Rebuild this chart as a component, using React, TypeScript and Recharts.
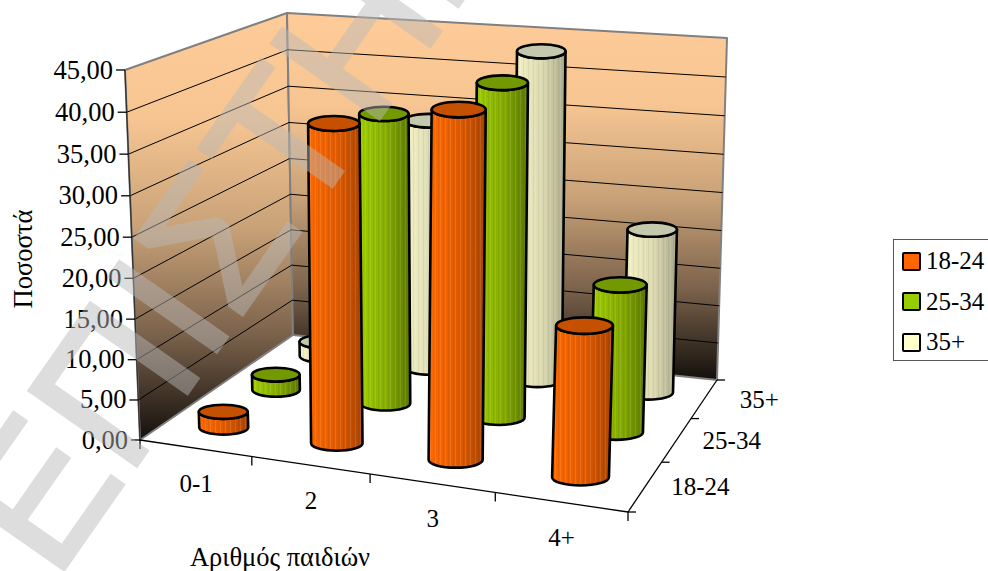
import { Bar, BarChart, Customized, Legend, XAxis, YAxis } from 'recharts'

const childCounts = ['0-1', '2', '3', '4+']
const ageGroups = ['18-24', '25-34', '35+']
const pct1824 = [2, 39, 42, 18.2]
const pct2534 = [2, 37, 42, 18.5]
const pct35 = [2, 33.2, 43.2, 21.4]
const yTicks = [0, 5, 10, 15, 20, 25, 30, 35, 40, 45]

const WIDTH = 988
const HEIGHT = 571
const AXIS_W = 60
const AXIS_H = 30
const PLOT_W = WIDTH - AXIS_W
const PLOT_H = HEIGHT - AXIS_H

const FONT = '"Liberation Serif", "Times New Roman", serif'

type Pt = [number, number]

// corners of the box: front-left, front-right, back-right, back-left
const floorQuad: Pt[] = [[140, 440], [628, 512], [717, 380], [293, 335]]
const topQuad: Pt[] = [[125, 70], [642, 119], [727, 38], [287, 13]]

function quadMap(q: Pt[]) {
  const [[x0, y0], [x1, y1], [x2, y2], [x3, y3]] = q
  const dx1 = x1 - x2
  const dx2 = x3 - x2
  const sx = x0 - x1 + x2 - x3
  const dy1 = y1 - y2
  const dy2 = y3 - y2
  const sy = y0 - y1 + y2 - y3
  const den = dx1 * dy2 - dx2 * dy1
  const g = (sx * dy2 - dx2 * sy) / den
  const h = (dx1 * sy - sx * dy1) / den
  const a = x1 - x0 + g * x1
  const b = x3 - x0 + h * x3
  const d = y1 - y0 + g * y1
  const e = y3 - y0 + h * y3
  return (u: number, v: number): Pt => {
    const w = g * u + h * v + 1
    return [(a * u + b * v + x0) / w, (d * u + e * v + y0) / w]
  }
}

const floorMap = quadMap(floorQuad)

// rise of the box at a floor point, blended from the four corner uprights
function rise(u: number, depth: number): Pt {
  const up = floorQuad.map((p, i): Pt => [topQuad[i][0] - p[0], topQuad[i][1] - p[1]])
  const mix = (k: 0 | 1) => {
    const front = up[0][k] + (up[1][k] - up[0][k]) * u
    const back = up[3][k] + (up[2][k] - up[3][k]) * u
    return front + (back - front) * depth
  }
  return [mix(0), mix(1)]
}

// u: along the categories, depth: front to back, level: 0 floor .. 1 top of the walls
function project(u: number, depth: number, level: number): Pt {
  // ease off the foreshortening, more of it towards the back wall
  const eased = u + (0.04 + 0.06 * depth) * u * (1 - u)
  const lift = level - 0.03 * level * (1 - level)
  const a = floorMap(eased, depth)
  const r = rise(u, depth)
  return [a[0] + r[0] * lift, a[1] + r[1] * lift]
}

const uOf = (x: number) => (x - AXIS_W) / PLOT_W
const levelOf = (y: number) => (PLOT_H - y) / PLOT_H
const depthOf = (i: number) => (i + 0.5) / ageGroups.length

const quadPath = (pts: Pt[]) => 'M' + pts.map((p) => p.join(' ')).join('L') + 'Z'

type Skin = { id: string; light: string; mid: string; dark: string; cap: string; swatch: string }

const skins: Skin[] = [
  { id: 'young', light: '#ff6a00', mid: '#e05a00', dark: '#a84400', cap: '#c45000', swatch: '#ff6600' },
  { id: 'middle', light: '#a0d000', mid: '#84aa00', dark: '#5c7800', cap: '#739900', swatch: '#99cc00' },
  { id: 'older', light: '#f6f3c8', mid: '#dcdab0', dark: '#a9a98c', cap: '#c4c8ac', swatch: '#ffffcc' },
]

function Cylinder(props: any) {
  const { x, y, width, height, series } = props
  const depth = depthOf(series)
  const skin = skins[series]
  const mid = uOf(x + width / 2)
  const level = levelOf(y)
  const base = project(mid, depth, 0)
  const top = project(mid, depth, level)
  const a = project(uOf(x), depth, 0)
  const b = project(uOf(x + width), depth, 0)
  const rx = Math.hypot(a[0] - b[0], a[1] - b[1]) / 2
  const ry = rx * 0.29
  if (height <= 0) return null
  const body =
    `M${top[0] - rx} ${top[1]}L${base[0] - rx} ${base[1]}` +
    `A${rx} ${ry} 0 0 0 ${base[0] + rx} ${base[1]}` +
    `L${top[0] + rx} ${top[1]}` +
    `A${rx} ${ry} 0 0 1 ${top[0] - rx} ${top[1]}Z`
  return (
    <g>
      <path d={body} fill={`url(#${skin.id})`} />
      <path d={body} fill="url(#pleats)" />
      <path d={body} fill="none" stroke="#000" strokeWidth={2.6} strokeLinejoin="round" />
      <ellipse cx={top[0]} cy={top[1]} rx={rx} ry={ry} fill={skin.cap} stroke="#000" strokeWidth={2.6} />
    </g>
  )
}

function Walls() {
  const left = [project(0, 0, 0), project(0, 1, 0), project(0, 1, 1), project(0, 0, 1)]
  const back = [project(0, 1, 0), project(1, 1, 0), project(1, 1, 1), project(0, 1, 1)]
  return (
    <g>
      <defs>
        <linearGradient id="wall" x1="0" x2="0" y1="0" y2="1">
          <stop offset="0%" stopColor="#ffcc99" />
          <stop offset="25%" stopColor="#f6c592" />
          <stop offset="50%" stopColor="#c9a278" />
          <stop offset="75%" stopColor="#7c634c" />
          <stop offset="100%" stopColor="#14100c" />
        </linearGradient>
        {skins.map((s) => (
          <linearGradient key={s.id} id={s.id} x1="0" x2="1" y1="0" y2="0">
            <stop offset="0%" stopColor={s.light} />
            <stop offset="55%" stopColor={s.mid} />
            <stop offset="100%" stopColor={s.dark} />
          </linearGradient>
        ))}
        <pattern id="pleats" width={5} height={8} patternUnits="userSpaceOnUse">
          <rect width={1} height={8} fill="#fff" opacity={0.11} />
          <rect x={3} width={1} height={8} fill="#000" opacity={0.05} />
        </pattern>
      </defs>
      <path d={quadPath(left)} fill="url(#wall)" stroke="#808080" strokeWidth={2} strokeLinejoin="round" />
      <path d={quadPath(back)} fill="url(#wall)" stroke="#808080" strokeWidth={2} strokeLinejoin="round" />
      {yTicks.slice(1, -1).map((t) => {
        const lv = t / 45
        const p0 = project(0, 0, lv)
        const p1 = project(0, 1, lv)
        const p2 = project(1, 1, lv)
        return (
          <polyline key={t} points={`${p0.join(',')} ${p1.join(',')} ${p2.join(',')}`} fill="none" stroke="#000" strokeWidth={1} />
        )
      })}
      <FloorAxes />
    </g>
  )
}

function FloorAxes() {
  const fl = project(0, 0, 0)
  const fr = project(1, 0, 0)
  const br = project(1, 1, 0)
  const tl = project(0, 0, 1)
  return (
    <g stroke="#000" strokeWidth={1.3} fill="none">
      <line x1={tl[0]} y1={tl[1]} x2={fl[0]} y2={fl[1]} stroke="#333" />
      <line x1={fl[0]} y1={fl[1]} x2={fr[0]} y2={fr[1]} />
      <line x1={fr[0]} y1={fr[1]} x2={br[0]} y2={br[1]} />
      {childCounts.map((_, i) => {
        const p = project((i + 1) / childCounts.length, 0, 0)
        return <line key={i} x1={p[0]} y1={p[1]} x2={p[0]} y2={p[1] + 9} />
      })}
      <line x1={fl[0]} y1={fl[1]} x2={fl[0]} y2={fl[1] + 9} />
      {[0, 1, 2, 3].map((i) => {
        const p = project(1, i / ageGroups.length, 0)
        return <line key={i} x1={p[0]} y1={p[1]} x2={p[0] + 8} y2={p[1]} />
      })}
      {ageGroups.map((g, i) => {
        const p = project(1, depthOf(i), 0)
        return (
          <text key={g} x={p[0] + 55} y={p[1] + 9} stroke="none" fill="#000" fontFamily={FONT} fontSize={25} textAnchor="middle">
            {g}
          </text>
        )
      })}
    </g>
  )
}

function ValueTick({ y, payload }: any) {
  const p = project(0, 0, levelOf(y))
  return (
    <g>
      <line x1={p[0] - 9} y1={p[1]} x2={p[0]} y2={p[1]} stroke="#000" strokeWidth={1.3} />
      <text x={p[0] - 12} y={p[1] + 8.5} textAnchor="end" fontFamily={FONT} fontSize={26.5} fill="#000">
        {payload.value.toFixed(2).replace('.', ',')}
      </text>
    </g>
  )
}

function CategoryTick({ x, payload }: any) {
  const p = project(uOf(x), 0, 0)
  return (
    <text x={p[0] + 1} y={p[1] + 44} textAnchor="middle" fontFamily={FONT} fontSize={25} fill="#000">
      {payload.value}
    </text>
  )
}

function AgeLegend() {
  return (
    <div
      style={{
        boxSizing: 'border-box',
        width: 120,
        height: 122,
        border: '1.5px solid #555',
        background: '#fff',
        paddingLeft: 8,
        fontFamily: FONT,
        fontSize: 25,
        color: '#000',
      }}
    >
      {ageGroups.map((g, i) => (
        <div key={g} style={{ display: 'flex', alignItems: 'center', height: 40.5, marginTop: i === 0 ? 1 : 0 }}>
          <span
            style={{
              boxSizing: 'border-box',
              width: 19,
              height: 19,
              border: '2.5px solid #000',
              borderRadius: 2,
              background: skins[i].swatch,
              marginRight: 5,
            }}
          />
          {g}
        </div>
      ))}
    </div>
  )
}

const rows = childCounts.map((name, i) => ({ name, a: pct1824[i], b: pct2534[i], c: pct35[i] }))

export default function App() {
  return (
    <div style={{ position: 'absolute', left: 0, top: 0, width: WIDTH, height: HEIGHT, overflow: 'hidden', background: '#fff' }}>
      <BarChart
        width={WIDTH}
        height={HEIGHT}
        data={rows}
        margin={{ top: 0, right: 0, bottom: 0, left: 0 }}
      >
        <Customized component={Walls} />
        <XAxis xAxisId="a" dataKey="name" height={AXIS_H} interval={0} axisLine={false} tickLine={false} tick={<CategoryTick />} />
        {/* one band axis per series so the cylinders share a category centre */}
        <XAxis xAxisId="b" dataKey="name" hide />
        <XAxis xAxisId="c" dataKey="name" hide />
        <YAxis width={AXIS_W} domain={[0, 45]} ticks={yTicks} interval={0} axisLine={false} tickLine={false} tick={<ValueTick />} />
        <Legend
          layout="vertical"
          align="center"
          verticalAlign="middle"
          content={<AgeLegend />}
          wrapperStyle={{ position: 'absolute', left: 893, top: 239, width: 120, height: 122, margin: 0 }}
        />
        <Bar dataKey="c" xAxisId="c" barSize={102} isAnimationActive={false} shape={(p: any) => <Cylinder {...p} series={2} />} />
        <Bar dataKey="b" xAxisId="b" barSize={102} isAnimationActive={false} shape={(p: any) => <Cylinder {...p} series={1} />} />
        <Bar dataKey="a" xAxisId="a" barSize={102} isAnimationActive={false} shape={(p: any) => <Cylinder {...p} series={0} />} />
      </BarChart>

      <div style={{ position: 'absolute', left: 23, top: 259, transform: 'translate(-50%, -50%) rotate(-90deg)', fontFamily: FONT, fontSize: 26.5, whiteSpace: 'nowrap' }}>
        Ποσοστά
      </div>
      <div style={{ position: 'absolute', left: 280, top: 557, transform: 'translate(-50%, -50%)', fontFamily: FONT, fontSize: 26.5, whiteSpace: 'nowrap' }}>
        Αριθμός παιδιών
      </div>

      <svg width={WIDTH} height={HEIGHT} style={{ position: 'absolute', left: 0, top: 0, pointerEvents: 'none' }}>
        <g opacity={0.47}>
          <text
            transform="translate(55 582) rotate(-55)"
            fontFamily='"Liberation Sans", sans-serif'
            fontSize={190}
            fill="#b9b9b9"
            stroke="#b9b9b9"
            strokeWidth={4}
          >
            ΕΠΙΣΤΗΜΗ
          </text>
        </g>
      </svg>
    </div>
  )
}
